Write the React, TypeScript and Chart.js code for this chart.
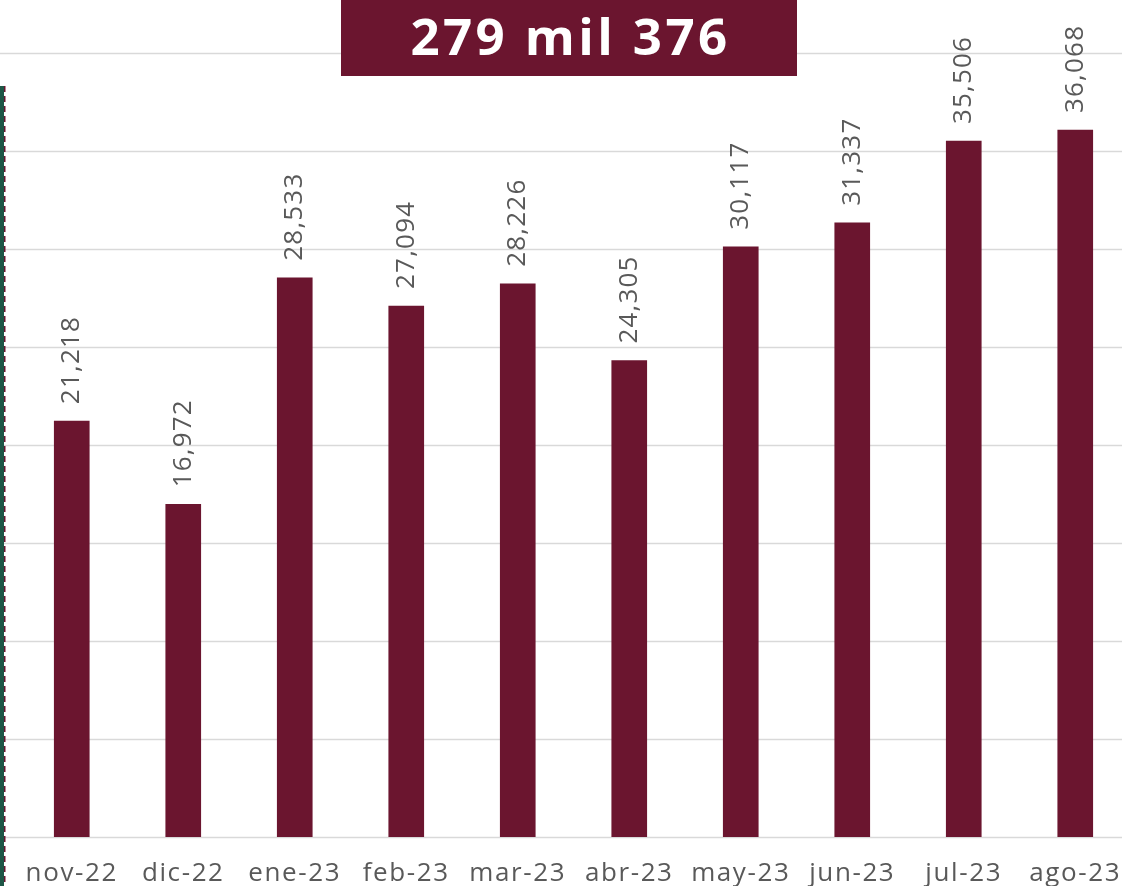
import React, { useEffect, useRef } from "react";
import { Chart, registerables } from "chart.js";

Chart.register(...registerables);

const categories = ["nov-22", "dic-22", "ene-23", "feb-23", "mar-23", "abr-23", "may-23", "jun-23", "jul-23", "ago-23"];
const values = [21218, 16972, 28533, 27094, 28226, 24305, 30117, 31337, 35506, 36068];
const gridTicks = [0, 5000, 10000, 15000, 20000, 25000, 30000, 35000, 40000];
const titleText = "279 mil 376";

const MAROON = "#6B152F";
const GRID = "#D9D9D9";
const TEXT = "#595959";
const FONT = "'Open Sans', 'Noto Sans', sans-serif";

const fullGridPlugin = {
  id: "fullGrid",
  beforeDraw(chart: any) {
    (chart.ctx as any).letterSpacing = "1.6px";
  },
  beforeDatasetsDraw(chart: any) {
    const { ctx } = chart;
    const y = chart.scales.y;
    ctx.save();
    ctx.strokeStyle = GRID;
    ctx.lineWidth = 1.5;
    gridTicks.forEach((v) => {
      const py = Math.round(y.getPixelForValue(v)) + 0.5;
      ctx.beginPath();
      ctx.moveTo(0, py);
      ctx.lineTo(chart.width, py);
      ctx.stroke();
    });
    ctx.restore();
  },
  afterDraw(chart: any) {
    const { ctx } = chart;
    ctx.save();
    ctx.fillStyle = "#1E5646";
    ctx.fillRect(0, 86, 4, chart.height - 86);
    ctx.strokeStyle = MAROON;
    ctx.lineWidth = 1.5;
    ctx.setLineDash([6, 4]);
    ctx.beginPath();
    ctx.moveTo(4.75, 86);
    ctx.lineTo(4.75, chart.height);
    ctx.stroke();
    ctx.restore();
  },
};

const valueLabelPlugin = {
  id: "valueLabels",
  afterDatasetsDraw(chart: any) {
    const { ctx } = chart;
    const meta = chart.getDatasetMeta(0);
    ctx.save();
    ctx.fillStyle = TEXT;
    ctx.font = `26px ${FONT}`;
    (ctx as any).letterSpacing = "1.2px";
    ctx.textAlign = "left";
    ctx.textBaseline = "middle";
    meta.data.forEach((bar: any, i: number) => {
      const txt = values[i].toLocaleString("en-US");
      ctx.save();
      ctx.translate(bar.x, bar.y - 17);
      ctx.rotate(-Math.PI / 2);
      ctx.fillText(txt, 0, 0);
      ctx.restore();
    });
    ctx.restore();
  },
};

export default function App() {
  const ref = useRef<HTMLCanvasElement | null>(null);
  useEffect(() => {
    if (!ref.current) return;
    const chart = new Chart(ref.current, {
      type: "bar",
      data: {
        labels: categories,
        datasets: [
          {
            data: values,
            backgroundColor: MAROON,
            barThickness: 35,
          },
        ],
      },
      options: {
        responsive: false,
        animation: false,
        layout: { padding: { left: 16, right: 9, top: 53, bottom: 0 } },
        plugins: { legend: { display: false }, tooltip: { enabled: false }, title: { display: false } },
        scales: {
          x: {
            grid: { display: false },
            border: { display: false },
            ticks: { color: TEXT, font: { size: 26, family: FONT }, padding: 13, maxRotation: 0, autoSkip: false },
            afterFit(scale: any) {
              scale.height = 49;
            },
          },
          y: {
            display: false,
            min: 0,
            max: 40000,
          },
        },
      },
      plugins: [fullGridPlugin, valueLabelPlugin],
    });
    return () => chart.destroy();
  }, []);

  return (
    <div style={{ position: "absolute", left: 0, top: 0, width: 1122, height: 886, overflow: "hidden", background: "#fff" }}>
      <canvas ref={ref} width={1140} height={886} style={{ display: "block" }} />
      <div
        style={{
          position: "absolute",
          left: 341,
          top: 0,
          width: 456,
          height: 76,
          background: MAROON,
          color: "#fff",
          fontFamily: FONT,
          fontWeight: 700,
          fontSize: 51,
          letterSpacing: "3.4px",
          display: "flex",
          alignItems: "center",
          justifyContent: "center",
          lineHeight: 1,
          paddingBottom: 6,
          paddingLeft: 3,
          boxSizing: "border-box",
        }}
      >
        {titleText}
      </div>
    </div>
  );
}
